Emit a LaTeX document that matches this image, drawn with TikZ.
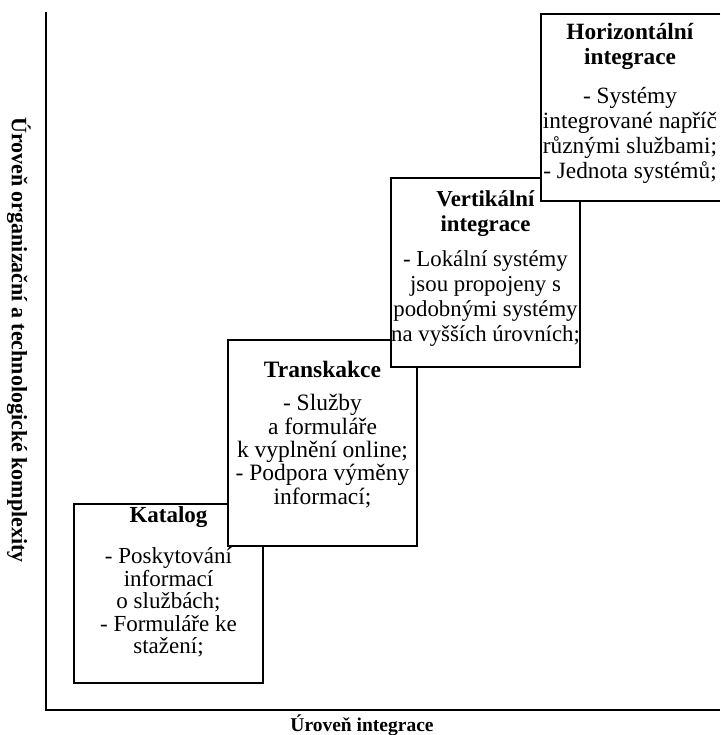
\documentclass[tikz,border=0pt]{standalone}
\usepackage{fontspec}
\setmainfont{Liberation Serif}
\begin{document}
\begin{tikzpicture}[x=1pt,y=-1pt,
  boxline/.style={line width=1.3pt, fill=white},
  axisline/.style={line width=1.8pt},
  boxtext/.style={align=center, inner sep=0pt, anchor=north},
  axislabel/.style={font=\fontsize{19.5}{19.5}\selectfont\bfseries, inner sep=0pt}]
\useasboundingbox (0,0) rectangle (720,735);
% axes
\coordinate (ytop) at (46,12);
\coordinate (origin) at (46,710);
\coordinate (xend) at (720,710);
\draw[axisline] (ytop) -- (origin) -- (xend);
\node[axislabel, font=\fontsize{22}{22}\selectfont\bfseries, rotate=-90] (ylabel) at (19,340)
  {Úroveň organizační a technologické komplexity};
\node[axislabel] (xlabel) at (362,725) {Úroveň integrace};
% Katalog
\draw[boxline] (74,504) rectangle (263,683);
\node[boxtext, font=\fontsize{23}{22.5}\selectfont] (katalog) at (168.5,506)
  {\textbf{Katalog}\\[19pt] - Poskytování\\ informací\\ o službách;\\ - Formuláře ke\\ stažení;};
% Transkakce
\draw[boxline] (228,340) rectangle (417,546);
\node[boxtext, font=\fontsize{23.5}{23.3}\selectfont] (transakce) at (322.5,361)
  {\textbf{Transkakce}\\[10pt] - Služby\\ a formuláře\\ k vyplnění online;\\ - Podpora výměny\\ informací;};
% Vertikalni
\draw[boxline] (391,178) rectangle (580,367);
\node[boxtext, font=\fontsize{22.8}{25}\selectfont] (vertikalni) at (485.5,190)
  {\textbf{Vertikální}\\ \textbf{integrace}\\[10pt] - Lokální systémy\\ jsou propojeny s\\ podobnými systémy\\ na vyšších úrovních;};
% Horizontalni
\fill[white] (541,14) rectangle (720,201);
\draw[line width=1.3pt] (720,14) -- (541,14) -- (541,201) -- (720,201);
\node[boxtext, font=\fontsize{23.3}{25}\selectfont] (horizontalni) at (630,23)
  {\textbf{Horizontální}\\ \textbf{integrace}\\[14pt] - Systémy\\ integrované napříč\\ různými službami;\\ - Jednota systémů;};
\end{tikzpicture}
\end{document}
